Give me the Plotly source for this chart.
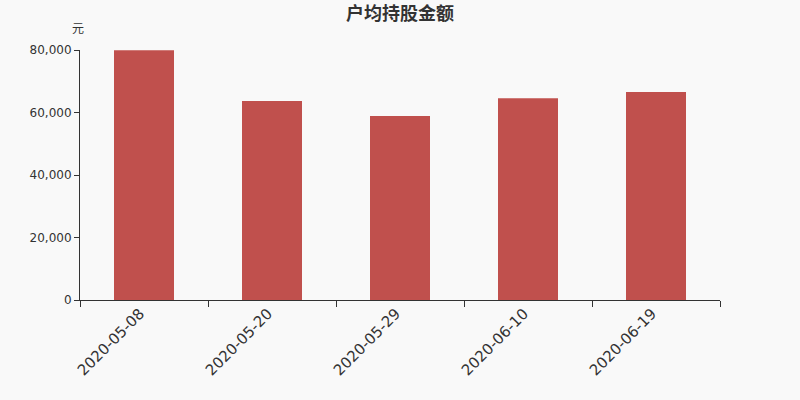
import plotly.graph_objects as go

DATES = ["2020-05-08", "2020-05-20", "2020-05-29", "2020-06-10", "2020-06-19"]
AVG_HOLDING = [79900, 63700, 58900, 64600, 66600]

FONT = "DejaVu Sans, Noto Sans CJK SC, sans-serif"
CJK_FONT = "Noto Sans CJK SC, sans-serif"
BG = "#f9f9f9"


def plot_avg_holding():
    fig = go.Figure()
    fig.add_trace(
        go.Bar(
            x=DATES,
            y=AVG_HOLDING,
            marker=dict(color="#c0504d", line=dict(width=0)),
            width=60 / 128,
        )
    )

    fig.update_xaxes(
        type="category",
        tickson="boundaries",
        ticks="outside",
        ticklen=6,
        tickcolor="#333",
        showline=True,
        linecolor="#333",
        linewidth=1,
        tickangle=-45,
        ticklabelshift=-4,
        ticklabelstandoff=-2,
        tickfont=dict(size=15, color="#333", family=FONT),
        showgrid=False,
    )
    fig.update_yaxes(
        range=[0, 80000],
        tickvals=[0, 20000, 40000, 60000, 80000],
        tickformat=",",
        ticks="outside",
        ticklen=5,
        tickcolor="#333",
        showline=True,
        linecolor="#333",
        linewidth=1,
        tickfont=dict(size=12, color="#333", family=FONT),
        showgrid=False,
        zeroline=False,
    )
    fig.update_layout(
        width=800,
        height=400,
        margin=dict(l=80, r=80, t=50, b=100),
        paper_bgcolor=BG,
        plot_bgcolor=BG,
        showlegend=False,
        title=dict(
            text="<b>户均持股金额</b>",
            x=0.5,
            xanchor="center",
            y=0.965,
            yanchor="middle",
            font=dict(size=18, color="#333", family=CJK_FONT),
        ),
        annotations=[
            dict(
                text="元",
                xref="paper",
                yref="paper",
                x=0,
                y=1,
                xanchor="right",
                yanchor="bottom",
                xshift=6,
                yshift=12,
                showarrow=False,
                font=dict(size=12, color="#333", family=CJK_FONT),
            )
        ],
    )
    # drop the page's default body margin so the figure sits at 0,0
    fig.write_html(
        "out.html",
        config={"displayModeBar": False},
        post_script="document.body.style.margin='0';"
        "document.body.style.background='#f9f9f9';",
    )


plot_avg_holding()
